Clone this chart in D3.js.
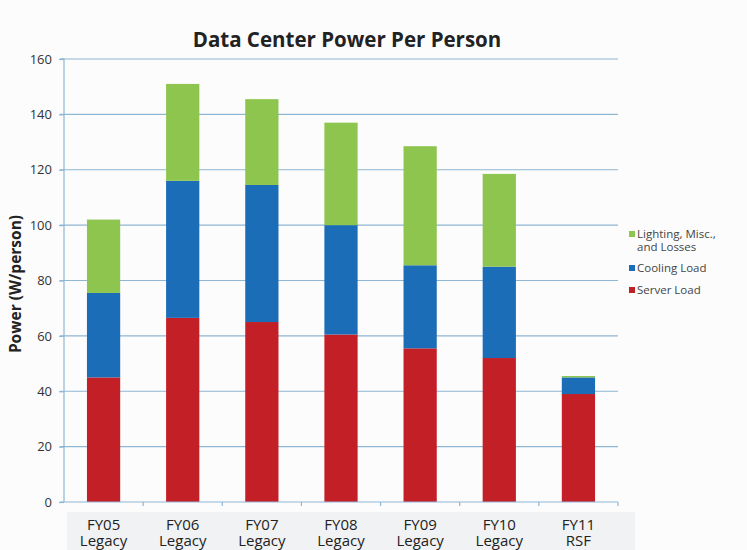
<!DOCTYPE html>
<html><head><meta charset="utf-8">
<script src="https://cdn.jsdelivr.net/npm/d3@7"></script>
<style>
body{margin:0;background:#fcfcfd;}
svg{display:block;font-family:"Open Sans",sans-serif;}
</style></head>
<body><svg id="c" width="747" height="550"></svg>
<script>
const categories = [["FY05","Legacy"],["FY06","Legacy"],["FY07","Legacy"],["FY08","Legacy"],["FY09","Legacy"],["FY10","Legacy"],["FY11","RSF"]];
const serverLoad = [45, 66.5, 65, 60.5, 55.5, 52, 39];
const coolingLoad = [30.5, 49.5, 49.5, 39.5, 30, 33, 6];
const lightingMisc = [26.5, 35, 31, 37, 43, 33.5, 0.5];
const seriesNames = ["Server Load","Cooling Load","Lighting, Misc., and Losses"];
const seriesColors = ["#c22026","#1b6db7","#8dc54e"];
const yTicks = [0,20,40,60,80,100,120,140,160];

const svg = d3.select("#c");
const pL = 64, pR = 618, pT = 59, pB = 502;
const keys = categories.map(d => d.join(" "));
const x = d3.scaleBand().domain(keys).range([pL, pR]).paddingInner(0.58).paddingOuter(0.29);
const y = d3.scaleLinear().domain([0,160]).range([pB, pT]);

// label background
svg.append("rect").attr("x",67).attr("y",512).attr("width",568).attr("height",38).attr("fill","#f1f2f3");

// gridlines
svg.append("g").selectAll("line").data(yTicks.filter(d=>d>0)).join("line")
  .attr("x1",pL-4).attr("x2",pR).attr("y1",d=>y(d)).attr("y2",d=>y(d))
  .attr("stroke","#8fb6d3").attr("stroke-width",1.2);

// stacks
const table = keys.map((k,i)=>({key:k, s0:serverLoad[i], s1:coolingLoad[i], s2:lightingMisc[i]}));
const stack = d3.stack().keys(["s0","s1","s2"])(table);
svg.append("g").selectAll("g").data(stack).join("g").attr("fill",(d,i)=>seriesColors[i])
  .selectAll("rect").data(d=>d).join("rect")
  .attr("x",d=>x(d.data.key)).attr("width",x.bandwidth())
  .attr("y",d=>y(d[1])).attr("height",d=>y(d[0])-y(d[1]));

// y axis
const yAxis = d3.axisLeft(y).tickValues(yTicks).tickSize(5).tickPadding(7);
const gy = svg.append("g").attr("transform",`translate(${pL},0)`).call(yAxis);
gy.select(".domain").attr("stroke","#8fb6d3").attr("stroke-width",1.2).attr("d",`M-4,${pT}H0V${pB}`);
gy.selectAll(".tick line").attr("stroke","#8fb6d3").attr("stroke-width",1.2);
gy.selectAll(".tick text").attr("font-size",13).attr("fill","#333").attr("font-family","'Open Sans',sans-serif");

// x axis
const gx = svg.append("g").attr("transform",`translate(0,${pB})`);
gx.append("line").attr("x1",pL-4).attr("x2",pR).attr("stroke","#8fb6d3").attr("stroke-width",1.2);
const bounds = keys.slice(1).map(k => x(k) - x.step()*x.paddingInner()/2);
bounds.push(pR);
gx.selectAll(".tk").data(bounds).join("line").attr("class","tk")
  .attr("x1",d=>d).attr("x2",d=>d).attr("y1",0).attr("y2",4)
  .attr("stroke","#8fb6d3").attr("stroke-width",1.2);
[0,1].forEach(j=>{
  gx.selectAll(".lb"+j).data(categories).join("text").attr("class","lb"+j)
    .attr("x",(d,i)=>x(keys[i])+x.bandwidth()/2).attr("y",28+j*16).attr("text-anchor","middle")
    .attr("font-size",15).attr("fill","#222").text(d=>d[j]);
});

// title
svg.append("text").attr("x",347).attr("y",47).attr("text-anchor","middle")
  .attr("font-size",20.5).attr("font-weight","bold").attr("fill","#222").text("Data Center Power Per Person");

// y label
svg.append("text").attr("transform","translate(21,284) rotate(-90)").attr("text-anchor","middle")
  .attr("font-size",15.5).attr("font-weight","bold").attr("fill","#222").text("Power (W/person)");

// legend
const legend = [
  {i:2, lines:["Lighting, Misc.,","and Losses"], y:238},
  {i:1, lines:["Cooling Load"], y:272},
  {i:0, lines:["Server Load"], y:294}
];
const lg = svg.append("g");
legend.forEach(l=>{
  lg.append("rect").attr("x",629).attr("y",l.y-7).attr("width",6).attr("height",6).attr("fill",seriesColors[l.i]);
  l.lines.forEach((s,j)=>lg.append("text").attr("x",637).attr("y",l.y+j*13)
    .attr("font-size",11.5).attr("fill","#444").text(s));
});
</script></body></html>
